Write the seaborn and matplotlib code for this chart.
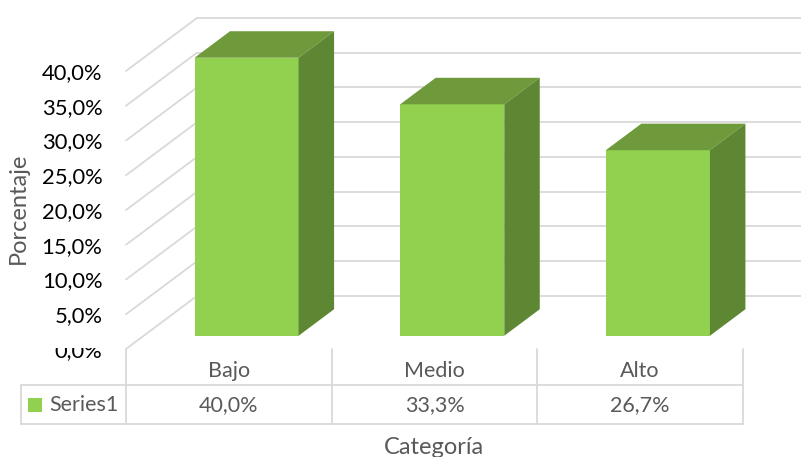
import matplotlib
matplotlib.use("Agg")
import matplotlib.pyplot as plt
import seaborn as sns
import pandas as pd
from matplotlib.patches import Rectangle, Polygon

# ---------------- data ----------------
categories = ["Bajo", "Medio", "Alto"]
values = [0.400, 0.333, 0.267]
value_labels = ["40,0%", "33,3%", "26,7%"]
ytick_values = [0.00, 0.05, 0.10, 0.15, 0.20, 0.25, 0.30, 0.35, 0.40]
ytick_labels = ["0,0%", "5,0%", "10,0%", "15,0%", "20,0%", "25,0%", "30,0%", "35,0%", "40,0%"]
series_name = "Series1"
x_title = "Categoría"
y_title = "Porcentaje"

# ---------------- style ----------------
FRONT = "#92D050"
TOP = "#6F9A3B"
SIDE = "#5E8733"
GRID = "#D9D9D9"
TXT = "#595959"

sns.set_theme(style="white")
plt.rcParams["font.family"] = ["Lato", "DejaVu Sans"]

W, H = 801, 457
fig = plt.figure(figsize=(W / 100, H / 100), dpi=100)
ax = fig.add_axes([126 / W, (H - 349) / H, (743 - 126) / W, (349 - 71) / H])

df = pd.DataFrame({"cat": categories, "val": values})
sns.barplot(data=df, x="cat", y="val", color=FRONT, saturation=1, width=0.506,
            ax=ax, zorder=3, linewidth=0)
ax.set_xlim(-0.5, 2.5)
ax.set_ylim(0, 0.40)

# depth vector of the floor (in data units)
DX = 0.345
DY = 0.0763

# gridlines: side wall diagonals and back wall horizontals
for t in ytick_values:
    ax.plot([-0.5, -0.5 + DX], [t, t + DY], color=GRID, lw=1.3, clip_on=False, zorder=1)
    ax.plot([-0.5 + DX, 2.5 + DX], [t + DY, t + DY], color=GRID, lw=1.3, clip_on=False, zorder=1)

# 3D faces for each bar (bars sit between 25% and 75% of floor depth)
for p in ax.patches[:len(values)]:
    p.set_x(p.get_x() + 0.25 * DX)
    p.set_y(p.get_y() + 0.25 * DY)
    p.set_clip_on(False)
    x0 = p.get_x()
    x1 = x0 + p.get_width()
    y0 = p.get_y()
    y1 = y0 + p.get_height()
    dx, dy = 0.5 * DX, 0.5 * DY
    ax.add_patch(Polygon([(x0, y1), (x1, y1), (x1 + dx, y1 + dy), (x0 + dx, y1 + dy)],
                         closed=True, facecolor=TOP, edgecolor="none", zorder=3, clip_on=False))
    ax.add_patch(Polygon([(x1, y0), (x1, y1), (x1 + dx, y1 + dy), (x1 + dx, y0 + dy)],
                         closed=True, facecolor=SIDE, edgecolor="none", zorder=3, clip_on=False))

# axes cosmetics
for s in ax.spines.values():
    s.set_visible(False)
ax.set_yticks(ytick_values, ytick_labels)
ax.tick_params(axis="y", length=0, pad=17, labelsize=15.8, labelcolor="#000000")
ax.set_xticks([])
ax.set_xlabel("")
ax.set_ylabel("")

# 0,0% label is partially hidden by the floor in the original
lab0 = ax.get_yticklabels()[0]
clip_rect = Rectangle((0, 0), 1, (H - 348) / H, transform=fig.transFigure)
lab0.set_clip_path(clip_rect)
lab0.set_clip_on(True)

# ---------------- data table ----------------
y_top, y_mid, y_bot = 0.0, -0.0518, -0.108
x_leg = -1.0105
bounds = [-0.5, 0.5, 1.5, 2.5]
for b in bounds:
    ax.plot([b, b], [y_top, y_bot], color=GRID, lw=1.3, clip_on=False, zorder=2)
ax.plot([x_leg, x_leg], [y_mid, y_bot], color=GRID, lw=1.3, clip_on=False, zorder=2)
for yy in (y_mid, y_bot):
    ax.plot([x_leg, 2.5], [yy, yy], color=GRID, lw=1.3, clip_on=False, zorder=2)

for i, (c, vl) in enumerate(zip(categories, value_labels)):
    ax.text(i, -0.0317, c, ha="center", va="center", fontsize=15.5, color=TXT, clip_on=False)
    ax.text(i, -0.0806, vl, ha="center", va="center", fontsize=15.5, color=TXT, clip_on=False)

ax.add_patch(Rectangle((-0.9765, -0.0906), 0.0685, 0.0206, facecolor=FRONT,
                       edgecolor="none", clip_on=False))
ax.text(-0.874, -0.0806, series_name, ha="left", va="center", fontsize=15.5,
        color=TXT, clip_on=False)

# axis titles
fig.text(434 / W, 1 - 447 / H, x_title, ha="center", va="center", fontsize=17, color=TXT)
fig.text(18 / W, 1 - 208 / H, y_title, ha="center", va="center", rotation=90,
         fontsize=17, color=TXT)

fig.savefig("out.png", dpi=100)
